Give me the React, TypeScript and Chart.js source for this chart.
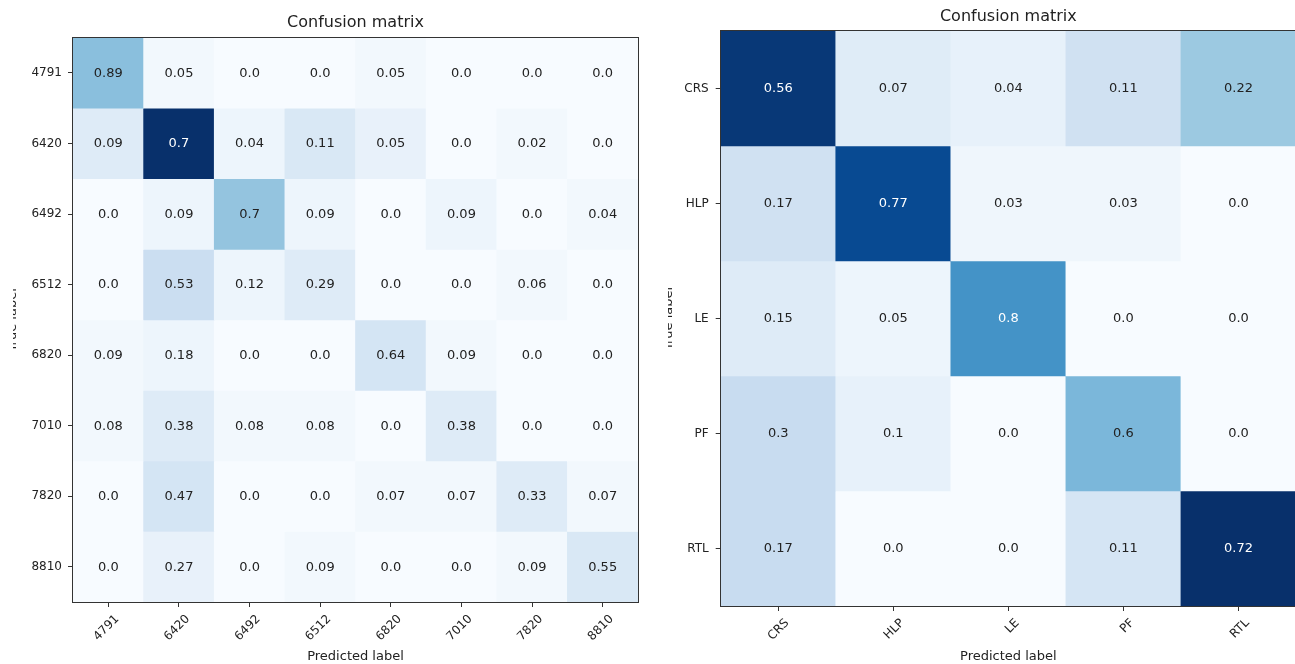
import React, { useEffect, useRef } from 'react';
import { Chart, registerables } from 'chart.js';

Chart.register(...registerables);

const FONT = '"DejaVu Sans", sans-serif';
const INK = '#222222';

// ---------- left matrix ----------
const leftLabels = ['4791', '6420', '6492', '6512', '6820', '7010', '7820', '8810'];
const leftValues = [
  [0.89, 0.05, 0.0, 0.0, 0.05, 0.0, 0.0, 0.0],
  [0.09, 0.7, 0.04, 0.11, 0.05, 0.0, 0.02, 0.0],
  [0.0, 0.09, 0.7, 0.09, 0.0, 0.09, 0.0, 0.04],
  [0.0, 0.53, 0.12, 0.29, 0.0, 0.0, 0.06, 0.0],
  [0.09, 0.18, 0.0, 0.0, 0.64, 0.09, 0.0, 0.0],
  [0.08, 0.38, 0.08, 0.08, 0.0, 0.38, 0.0, 0.0],
  [0.0, 0.47, 0.0, 0.0, 0.07, 0.07, 0.33, 0.07],
  [0.0, 0.27, 0.0, 0.09, 0.0, 0.0, 0.09, 0.55],
];
// colour level of each cell (0..1 on the Blues colour map)
const leftShades = [
  [0.425, 0.025, 0, 0, 0.025, 0, 0, 0],
  [0.125, 1, 0.05, 0.15, 0.075, 0, 0.025, 0],
  [0, 0.05, 0.4, 0.05, 0, 0.05, 0, 0.025],
  [0, 0.225, 0.05, 0.125, 0, 0, 0.025, 0],
  [0.025, 0.05, 0, 0, 0.175, 0.025, 0, 0],
  [0.025, 0.125, 0.025, 0.025, 0, 0.125, 0, 0],
  [0, 0.175, 0, 0, 0.025, 0.025, 0.125, 0.025],
  [0, 0.075, 0, 0.025, 0, 0, 0.025, 0.15],
];

// ---------- right matrix ----------
const rightLabels = ['CRS', 'HLP', 'LE', 'PF', 'RTL'];
const rightValues = [
  [0.56, 0.07, 0.04, 0.11, 0.22],
  [0.17, 0.77, 0.03, 0.03, 0.0],
  [0.15, 0.05, 0.8, 0.0, 0.0],
  [0.3, 0.1, 0.0, 0.6, 0.0],
  [0.17, 0.0, 0.0, 0.11, 0.72],
];
const rightShades = [
  [0.97, 0.12, 0.08, 0.2, 0.38],
  [0.2, 0.9, 0.04, 0.04, 0],
  [0.125, 0.05, 0.62, 0, 0],
  [0.24, 0.08, 0, 0.46, 0],
  [0.24, 0, 0, 0.17, 1],
];

const BLUES = [
  [247, 251, 255], [222, 235, 247], [198, 219, 239], [158, 202, 225], [107, 174, 214],
  [66, 146, 198], [33, 113, 181], [8, 81, 156], [8, 48, 107],
];

function blues(t: number): string {
  const v = Math.max(0, Math.min(1, t)) * (BLUES.length - 1);
  const i = Math.min(BLUES.length - 2, Math.floor(v));
  const f = v - i;
  const a = BLUES[i];
  const b = BLUES[i + 1];
  const c = a.map((x, k) => Math.round(x + (b[k] - x) * f));
  return `rgb(${c[0]},${c[1]},${c[2]})`;
}

function fmt(v: number): string {
  return Number.isInteger(v) ? v.toFixed(1) : String(v);
}

type Geo = {
  canvasW: number;
  yAxisW: number;
  xAxisH: number;
  padRight: number;
  titleTop: number;
  titleBottom: number;
  yTitlePad: number;
  yTickPad: number;
};

function makeConfig(labels: string[], values: number[][], shades: number[][], g: Geo): any {
  const n = labels.length;
  const cellText = {
    id: 'cellText',
    afterDatasetsDraw(chart: any) {
      const ctx = chart.ctx;
      ctx.save();
      ctx.font = `13px ${FONT}`;
      ctx.textAlign = 'center';
      ctx.textBaseline = 'middle';
      chart.data.datasets.forEach((_ds: any, r: number) => {
        const meta = chart.getDatasetMeta(r);
        meta.data.forEach((el: any, c: number) => {
          const p = el.getProps(['x', 'y', 'base'], true);
          ctx.fillStyle = shades[r][c] > 0.5 ? '#ffffff' : INK;
          ctx.fillText(fmt(values[r][c]), p.x, (p.y + p.base) / 2 + 0.5);
        });
      });
      const a = chart.chartArea;
      ctx.strokeStyle = '#333333';
      ctx.lineWidth = 1;
      ctx.strokeRect(Math.round(a.left) - 0.5, Math.round(a.top) - 0.5, Math.round(a.right - a.left) + 1, Math.round(a.bottom - a.top) + 1);
      ctx.restore();
    },
  };

  return {
    type: 'bar',
    data: {
      labels,
      datasets: values.map((row, r) => ({
        label: labels[r],
        data: row.map(() => [r, r + 1]),
        backgroundColor: shades[r].map(blues),
        borderWidth: 0,
        grouped: false,
        barPercentage: 1,
        categoryPercentage: 1,
      })),
    },
    options: {
      responsive: false,
      animation: false,
      events: [],
      layout: { padding: { left: 0, right: g.padRight, top: 0, bottom: 0 } },
      plugins: {
        legend: { display: false },
        tooltip: { enabled: false },
        title: {
          display: true,
          text: 'Confusion matrix',
          fullSize: false,
          color: INK,
          font: { family: FONT, size: 16, weight: 'normal' },
          padding: { top: g.titleTop, bottom: g.titleBottom },
        },
      },
      scales: {
        x: {
          type: 'category',
          offset: true,
          grid: { offset: false, drawOnChartArea: false, drawTicks: true, tickLength: 5, tickColor: '#333333' },
          border: { display: false },
          ticks: {
            autoSkip: false,
            minRotation: 45,
            maxRotation: 45,
            padding: 5,
            labelOffset: 9,
            color: INK,
            font: { family: FONT, size: 12 },
          },
          title: {
            display: true,
            text: 'Predicted label',
            color: INK,
            font: { family: FONT, size: 13 },
            padding: { top: 0, bottom: 0 },
          },
          afterFit: (s: any) => {
            s.height = g.xAxisH;
          },
        },
        y: {
          type: 'linear',
          reverse: true,
          min: 0,
          max: n,
          afterBuildTicks: (s: any) => {
            s.ticks = labels.map((_l, i) => ({ value: i + 0.5 }));
          },
          grid: { drawOnChartArea: false, drawTicks: true, tickLength: 5, tickColor: '#333333' },
          border: { display: false },
          ticks: {
            autoSkip: false,
            padding: g.yTickPad,
            color: INK,
            font: { family: FONT, size: 12 },
            callback: (v: number) => labels[Math.floor(v)],
          },
          title: {
            display: true,
            text: 'True label',
            color: INK,
            font: { family: FONT, size: 13 },
            padding: { top: g.yTitlePad, bottom: 0 },
          },
          afterFit: (s: any) => {
            s.width = g.yAxisW;
          },
        },
      },
    },
    plugins: [cellText],
  };
}

function Matrix(props: {
  labels: string[];
  values: number[][];
  shades: number[][];
  geo: Geo;
}) {
  const ref = useRef<HTMLCanvasElement | null>(null);
  useEffect(() => {
    if (!ref.current) return;
    const chart = new Chart(ref.current, makeConfig(props.labels, props.values, props.shades, props.geo));
    return () => chart.destroy();
  }, []);
  return (
    <canvas
      ref={ref}
      width={props.geo.canvasW}
      height={664}
      style={{ display: 'block', width: props.geo.canvasW, height: 664 }}
    />
  );
}

const leftGeo: Geo = {
  canvasW: 640,
  yAxisW: 73,
  xAxisH: 62,
  padRight: 2,
  titleTop: 13,
  titleBottom: 5.5,
  yTitlePad: 5,
  yTickPad: 6,
};

const rightGeo: Geo = {
  canvasW: 650,
  yAxisW: 70.7,
  xAxisH: 58,
  padRight: 4,
  titleTop: 7.4,
  titleBottom: 4.4,
  yTitlePad: 10.5,
  yTickPad: 7,
};

export default function App() {
  return (
    <div
      style={{
        position: 'fixed',
        left: 0,
        top: 0,
        width: 1295,
        height: 664,
        overflow: 'hidden',
        background: '#ffffff',
      }}
    >
      <div style={{ position: 'absolute', left: 13, top: 0, width: 640 - 13, height: 664, overflow: 'hidden' }}>
        <div style={{ position: 'absolute', left: -13, top: 0 }}>
          <Matrix labels={leftLabels} values={leftValues} shades={leftShades} geo={leftGeo} />
        </div>
      </div>
      <div style={{ position: 'absolute', left: 668, top: 0, width: 1295 - 668, height: 664, overflow: 'hidden' }}>
        <div style={{ position: 'absolute', left: 650 - 668, top: 0 }}>
          <Matrix labels={rightLabels} values={rightValues} shades={rightShades} geo={rightGeo} />
        </div>
      </div>
    </div>
  );
}
